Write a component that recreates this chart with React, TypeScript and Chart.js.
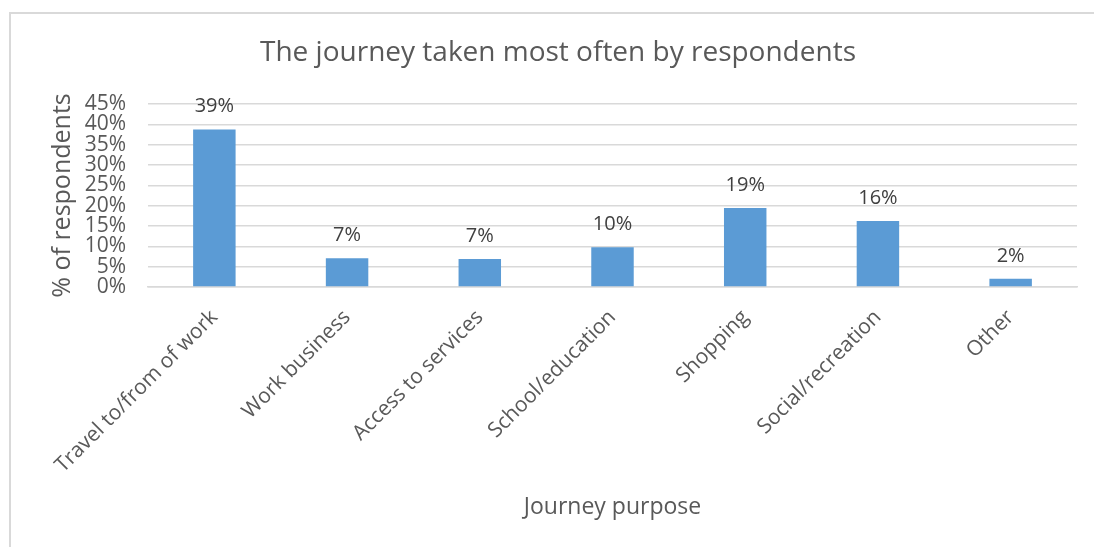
import React, { useEffect, useRef } from "react";
import { Chart, registerables } from "chart.js";

Chart.register(...registerables);

const categories: string[] = [
  "Travel to/from of work",
  "Work business",
  "Access to services",
  "School/education",
  "Shopping",
  "Social/recreation",
  "Other",
];
const shares: number[] = [38.7, 7.1, 6.9, 9.8, 19.4, 16.2, 2.0];
const shareLabels: string[] = ["39%", "7%", "7%", "10%", "19%", "16%", "2%"];
const chartTitle = "The journey taken most often by respondents";

const FONT = "'Open Sans', sans-serif";
const TEXT = "#595959";

const dataLabelPlugin = {
  id: "dataLabels",
  afterDatasetsDraw(chart: any) {
    const ctx = chart.ctx;
    const meta = chart.getDatasetMeta(0);
    ctx.save();
    ctx.font = `20px ${FONT}`;
    ctx.fillStyle = "#404040";
    ctx.textAlign = "center";
    ctx.textBaseline = "middle";
    meta.data.forEach((bar: any, i: number) => {
      ctx.fillText(shareLabels[i], bar.x, bar.y - 23);
    });
    ctx.restore();
  },
};

const titlePlugin = {
  id: "customTitle",
  afterDraw(chart: any) {
    const ctx = chart.ctx;
    ctx.save();
    ctx.font = `28px ${FONT}`;
    ctx.fillStyle = TEXT;
    ctx.textAlign = "center";
    ctx.textBaseline = "middle";
    ctx.fillText(chartTitle, 558, 53);
    ctx.restore();
  },
};

export default function App() {
  const ref = useRef<HTMLCanvasElement | null>(null);
  useEffect(() => {
    if (!ref.current) return;
    const chart = new Chart(ref.current, {
      type: "bar",
      data: {
        labels: categories,
        datasets: [
          {
            data: shares,
            backgroundColor: "#5B9BD5",
            barPercentage: 0.32,
            categoryPercentage: 1,
          },
        ],
      },
      options: {
        responsive: false,
        animation: false,
        layout: { padding: { left: 0, right: 17, top: 104, bottom: 0 } },
        plugins: {
          legend: { display: false },
          tooltip: { enabled: false },
          title: { display: false },
        },
        scales: {
          x: {
            grid: { display: false, drawTicks: false },
            border: { display: true, color: "#D9D9D9", width: 1.5 },
            ticks: {
              color: TEXT,
              font: { family: FONT, size: 21 },
              minRotation: 45,
              maxRotation: 45,
              autoSkip: false,
              padding: 18,
            },
            title: {
              display: true,
              text: "Journey purpose",
              color: TEXT,
              font: { family: FONT, size: 23 },
              padding: { top: 26, bottom: 26 },
            },
            afterFit: (scale: any) => {
              scale.height = 260;
            },
          },
          y: {
            min: 0,
            max: 45,
            grid: { color: "#D9D9D9", lineWidth: 1.5, drawTicks: false },
            border: { display: false },
            ticks: {
              stepSize: 5,
              autoSkip: false,
              color: TEXT,
              font: { family: FONT, size: 21, lineHeight: 1 },
              padding: 22,
              callback: (v: any) => `${v}%`,
            },
            title: {
              display: true,
              text: "% of respondents",
              color: TEXT,
              font: { family: FONT, size: 25 },
              padding: { top: 48, bottom: 0 },
            },
            afterFit: (scale: any) => {
              scale.width = 148;
            },
          },
        },
      },
      plugins: [dataLabelPlugin, titlePlugin],
    });
    return () => chart.destroy();
  }, []);

  return (
    <div style={{ position: "fixed", left: 0, top: 0, width: 1094, height: 547, background: "#fff", overflow: "hidden" }}>
      <div
        style={{
          position: "absolute",
          left: 9,
          top: 12,
          width: 1100,
          height: 540,
          borderTop: "2px solid #D9D9D9",
          borderLeft: "2px solid #D9D9D9",
          boxSizing: "border-box",
        }}
      />
      <canvas ref={ref} width={1094} height={547} style={{ position: "absolute", left: 0, top: 0 }} />
    </div>
  );
}
